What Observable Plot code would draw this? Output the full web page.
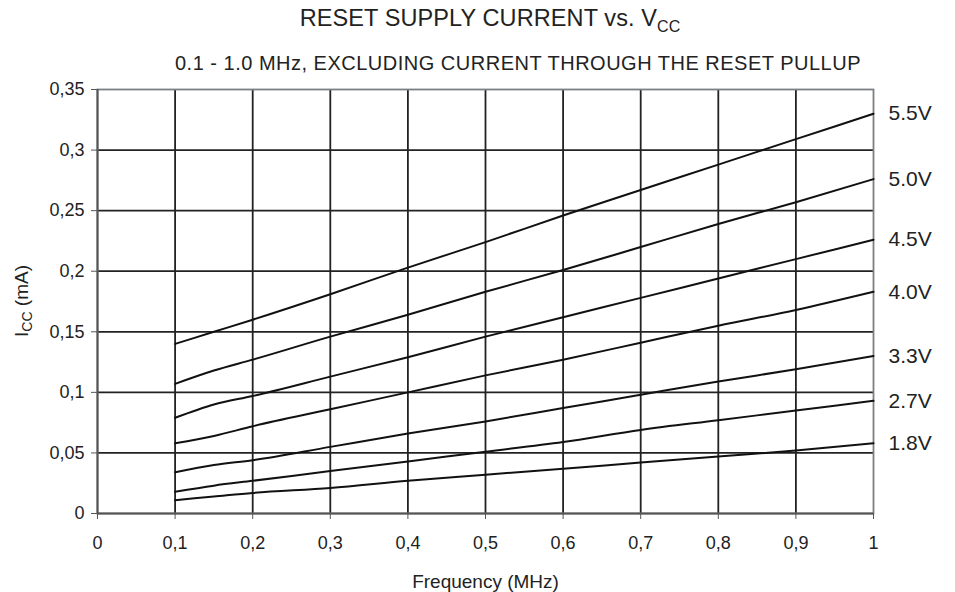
<!DOCTYPE html>
<html>
<head>
<meta charset="utf-8">
<script src="https://cdn.jsdelivr.net/npm/d3@7"></script>
<script src="https://cdn.jsdelivr.net/npm/@observablehq/plot@0.6"></script>
<style>
  body { margin: 0; background: #fff; font-family: "Liberation Sans", Arial, sans-serif; color: #222; }
  #head { position: relative; width: 955px; height: 75px; }
  #title { position: absolute; left: 240px; width: 500px; top: 7px; line-height: 23px; text-align: center; font-size: 23.5px; letter-spacing: 0.1px; white-space: nowrap; }
  #title sub { font-size: 16px; vertical-align: -6px; line-height: 0; }
  #subtitle { position: absolute; left: 118px; width: 800px; top: 53px; line-height: 20px; text-align: center; font-size: 20px; letter-spacing: 0.5px; white-space: nowrap; }
</style>
</head>
<body>
<div id="head">
  <div id="title">RESET SUPPLY CURRENT vs. V<sub>CC</sub></div>
  <div id="subtitle">0.1 - 1.0 MHz, EXCLUDING CURRENT THROUGH THE RESET PULLUP</div>
</div>
<div id="chart"></div>
<script>
const freqs = [0.1, 0.15, 0.2, 0.3, 0.4, 0.5, 0.6, 0.7, 0.8, 0.9, 1.0];
const seriesNames = ["5.5V", "5.0V", "4.5V", "4.0V", "3.3V", "2.7V", "1.8V"];
const v55 = [0.140, 0.150, 0.160, 0.181, 0.203, 0.224, 0.246, 0.267, 0.288, 0.309, 0.330];
const v50 = [0.107, 0.118, 0.127, 0.146, 0.164, 0.183, 0.201, 0.220, 0.239, 0.257, 0.276];
const v45 = [0.079, 0.090, 0.097, 0.113, 0.129, 0.146, 0.162, 0.178, 0.194, 0.210, 0.226];
const v40 = [0.058, 0.064, 0.072, 0.086, 0.100, 0.114, 0.127, 0.141, 0.155, 0.168, 0.183];
const v33 = [0.034, 0.040, 0.044, 0.055, 0.066, 0.076, 0.087, 0.098, 0.109, 0.119, 0.130];
const v27 = [0.018, 0.023, 0.027, 0.035, 0.043, 0.051, 0.059, 0.069, 0.077, 0.085, 0.093];
const v18 = [0.011, 0.014, 0.017, 0.021, 0.027, 0.032, 0.037, 0.042, 0.047, 0.052, 0.058];
const seriesValues = [v55, v50, v45, v40, v33, v27, v18];
const xTicks = [0, 0.1, 0.2, 0.3, 0.4, 0.5, 0.6, 0.7, 0.8, 0.9, 1];
const xTickLabels = ["0", "0,1", "0,2", "0,3", "0,4", "0,5", "0,6", "0,7", "0,8", "0,9", "1"];
const yTicks = [0, 0.05, 0.1, 0.15, 0.2, 0.25, 0.3, 0.35];
const yTickLabels = ["0", "0,05", "0,1", "0,15", "0,2", "0,25", "0,3", "0,35"];
const xLabel = "Frequency (MHz)";

const rows = [];
seriesNames.forEach((name, i) => {
  freqs.forEach((f, j) => rows.push({series: name, f, v: seriesValues[i][j]}));
});
const ends = seriesNames.map((name, i) => ({series: name, f: freqs[freqs.length - 1], v: seriesValues[i][freqs.length - 1]}));

const gridX = xTicks.slice(1, -1);
const gridY = yTicks.slice(1, -1);

const chart = Plot.plot({
  width: 955,
  height: 517,
  marginTop: 14,
  marginBottom: 79,
  marginLeft: 97,
  marginRight: 82,
  style: {fontFamily: "'Liberation Sans', Arial, sans-serif", fontSize: "18px", color: "#222", background: "#fff"},
  x: {domain: [0, 1]},
  y: {domain: [0, 0.35]},
  marks: [
    Plot.ruleX(gridX, {stroke: "#222", strokeWidth: 1.8}),
    Plot.ruleY(gridY, {stroke: "#222", strokeWidth: 1.8}),
    Plot.frame({stroke: "#7a7f85", strokeWidth: 1.8}),
    Plot.ruleY([0], {stroke: "#555", strokeWidth: 2}),
    Plot.ruleX([0], {stroke: "#555", strokeWidth: 2}),
    Plot.axisX({ticks: xTicks, tickFormat: (d, i) => xTickLabels[i], tickSize: 6, tickPadding: 17, stroke: "#555", fontSize: 18, label: xLabel, labelAnchor: "center", labelArrow: false, labelOffset: 74}),
    Plot.axisY({ticks: yTicks, tickFormat: (d, i) => yTickLabels[i], tickSize: 6, tickPadding: 7, stroke: "#555", fontSize: 18, label: null}),
    Plot.line(rows, {x: "f", y: "v", z: "series", stroke: "#111", strokeWidth: 2, curve: "monotone-x"}),
    Plot.text(ends, {x: "f", y: "v", text: "series", textAnchor: "start", dx: 15, fontSize: 21, fill: "#222"})
  ]
});
document.getElementById("chart").appendChild(chart);

// Enlarge axis title
d3.select(chart).selectAll("g[aria-label='x-axis label'] text").attr("font-size", 19);

// Y axis label with subscript
const svg = d3.select(chart);
const yl = svg.append("text")
  .attr("transform", "translate(28," + (14 + 212) + ") rotate(-90)")
  .attr("text-anchor", "middle")
  .attr("font-size", 19)
  .attr("fill", "#222");
yl.append("tspan").text("I");
yl.append("tspan").attr("font-size", 14).attr("dy", 4).text("CC");
yl.append("tspan").attr("dy", -4).text(" (mA)");
</script>
</body>
</html>
